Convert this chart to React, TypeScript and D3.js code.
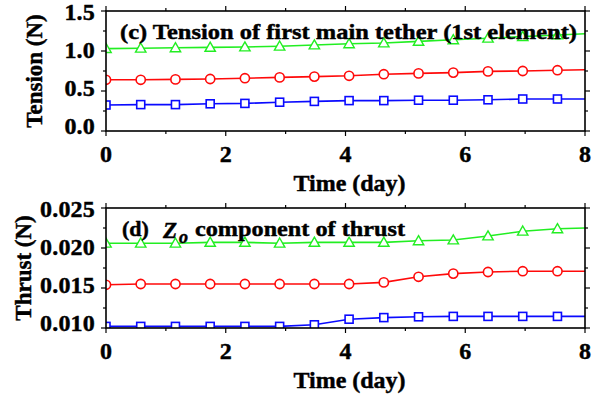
import React from "react";
import * as d3 from "d3";

// marker times (day), the last point closes the line at the right edge
const days = [0, 0.58, 1.16, 1.74, 2.32, 2.9, 3.48, 4.06, 4.64, 5.22, 5.8, 6.38, 6.96, 7.54, 8];

// (c) tension of first main tether, N
const tensionGreen = [1.03, 1.035, 1.04, 1.045, 1.05, 1.06, 1.075, 1.09, 1.1, 1.12, 1.14, 1.16, 1.18, 1.2, 1.215];
const tensionRed = [0.64, 0.64, 0.645, 0.65, 0.66, 0.67, 0.68, 0.69, 0.71, 0.72, 0.73, 0.745, 0.75, 0.76, 0.765];
const tensionBlue = [0.325, 0.33, 0.33, 0.34, 0.345, 0.36, 0.37, 0.38, 0.38, 0.385, 0.385, 0.39, 0.4, 0.4, 0.4];

// (d) Zo component of thrust, N
const thrustGreen = [0.0206, 0.0206, 0.0206, 0.0207, 0.0207, 0.0206, 0.0207, 0.0207, 0.0207, 0.0209, 0.021, 0.0215, 0.0221, 0.0224, 0.0225];
const thrustRed = [0.0154, 0.0155, 0.0155, 0.0155, 0.0155, 0.0155, 0.0155, 0.0155, 0.0157, 0.0164, 0.0168, 0.017, 0.0171, 0.0171, 0.0171];
const thrustBlue = [0.0102, 0.0102, 0.0102, 0.0102, 0.0102, 0.0102, 0.0104, 0.0111, 0.0113, 0.0114, 0.01145, 0.01145, 0.01145, 0.01145, 0.01145];

const xTicks = [0, 2, 4, 6, 8];
const tensionTicks = [0, 0.5, 1.0, 1.5];
const thrustTicks = [0.01, 0.015, 0.02, 0.025];

const GREEN = "#22ee22";
const RED = "#ff0a0a";
const BLUE = "#0a0aff";
const FONT = "'Liberation Serif', 'Times New Roman', serif";

const left = 106;
const right = 585;

type Series = { values: number[]; color: string; shape: string };

const bold = { fontWeight: "bold", fontFamily: FONT, stroke: "black", strokeWidth: 0.45 } as const;

function Marker({ shape, x, y, color }: { shape: string; x: number; y: number; color: string }) {
  if (shape === "circle") return <circle cx={x} cy={y} r={4.6} fill="white" stroke={color} strokeWidth={1.6} />;
  if (shape === "square") return <rect x={x - 4} y={y - 4} width={8} height={8} fill="white" stroke={color} strokeWidth={1.6} />;
  const s = 5.2;
  return (
    <path d={`M${x},${y - s}L${x + s},${y + s * 0.75}L${x - s},${y + s * 0.75}Z`} fill="white" stroke={color} strokeWidth={1.4} />
  );
}

function Panel({ id, top, bottom, domain, ticks, minorStep, fmt, series, ylabel, ylabelX, children }: any) {
  const x = d3.scaleLinear().domain([0, 8]).range([left, right]);
  const y = d3.scaleLinear().domain(domain).range([bottom, top]);
  const line = d3.line<number>().x((_, i) => x(days[i])).y((v) => y(v));
  const minorY = d3.range(domain[0], domain[1] + 1e-9, minorStep);
  const minorX = d3.range(0, 8.001, 1);
  return (
    <g>
      <defs>
        <clipPath id={id}>
          <rect x={left} y={top} width={right - left} height={bottom - top} />
        </clipPath>
      </defs>
      <g clipPath={`url(#${id})`}>
        {(series as Series[]).map((s) => (
          <g key={s.color}>
            <path d={line(s.values) || ""} fill="none" stroke={s.color} strokeWidth={1.6} />
            {s.values.slice(0, -1).map((v, i) => (
              <Marker key={i} shape={s.shape} x={x(days[i])} y={y(v)} color={s.color} />
            ))}
          </g>
        ))}
      </g>
      {children}
      <rect x={left} y={top} width={right - left} height={bottom - top} fill="none" stroke="black" strokeWidth={1.6} />
      {minorX.map((t) => {
        const len = t % 2 === 0 ? 5 : 3;
        return (
          <g key={"x" + t} stroke="black" strokeWidth={1.2}>
            <line x1={x(t)} x2={x(t)} y1={bottom} y2={bottom + len} />
            <line x1={x(t)} x2={x(t)} y1={top} y2={top - len} />
          </g>
        );
      })}
      {minorY.map((t, i) => {
        const len = i % 2 === 0 ? 5 : 3;
        return (
          <g key={"y" + i} stroke="black" strokeWidth={1.2}>
            <line x1={left} x2={left - len} y1={y(t)} y2={y(t)} />
            <line x1={right} x2={right + len} y1={y(t)} y2={y(t)} />
          </g>
        );
      })}
      {xTicks.map((t) => (
        <text key={t} x={x(t)} y={bottom + 31} textAnchor="middle" fontSize={24} {...bold}>
          {t}
        </text>
      ))}
      {(ticks as number[]).map((t) => (
        <text
          key={t}
          x={left - 11}
          y={top + 9 + (y(t) - top) * 0.95}
          textAnchor="end"
          fontSize={24}
          letterSpacing={0.2}
          {...bold}
        >
          {fmt(t)}
        </text>
      ))}
      <text x={(left + right) / 2 + 4} y={bottom + 60} textAnchor="middle" fontSize={24} {...bold}>
        Time (day)
      </text>
      <text
        transform={`translate(${ylabelX},${(top + bottom) / 2}) rotate(-90)`}
        textAnchor="middle"
        fontSize={23}
        {...bold}
      >
        {ylabel}
      </text>
    </g>
  );
}

export default function App() {
  return (
    <svg width={593} height={396} style={{ position: "absolute", left: 0, top: 0, background: "white" }}>
      <Panel
        id="clipC"
        top={11}
        bottom={131}
        domain={[0, 1.5]}
        ticks={tensionTicks}
        minorStep={0.25}
        fmt={d3.format(".1f")}
        ylabel="Tension (N)"
        ylabelX={42}
        series={[
          { values: tensionGreen, color: GREEN, shape: "triangle" },
          { values: tensionRed, color: RED, shape: "circle" },
          { values: tensionBlue, color: BLUE, shape: "square" },
        ]}
      >
        <text x={120} y={39} fontSize={22} textLength={457} lengthAdjust="spacingAndGlyphs" {...bold}>
          (c) Tension of first main tether (1st element)
        </text>
      </Panel>
      <Panel
        id="clipD"
        top={208}
        bottom={328}
        domain={[0.01, 0.025]}
        ticks={thrustTicks}
        minorStep={0.0025}
        fmt={d3.format(".3f")}
        ylabel="Thrust (N)"
        ylabelX={31}
        series={[
          { values: thrustGreen, color: GREEN, shape: "triangle" },
          { values: thrustRed, color: RED, shape: "circle" },
          { values: thrustBlue, color: BLUE, shape: "square" },
        ]}
      >
        <text x={122} y={236} fontSize={22} {...bold}>(d)</text>
        <text x={163} y={238} fontSize={23} fontStyle="italic" {...bold}>Z</text>
        <text x={179} y={243} fontSize={18} fontStyle="italic" {...bold}>o</text>
        <text x={195} y={236} fontSize={22} textLength={210} lengthAdjust="spacingAndGlyphs" {...bold}>
          component of thrust
        </text>
      </Panel>
    </svg>
  );
}
